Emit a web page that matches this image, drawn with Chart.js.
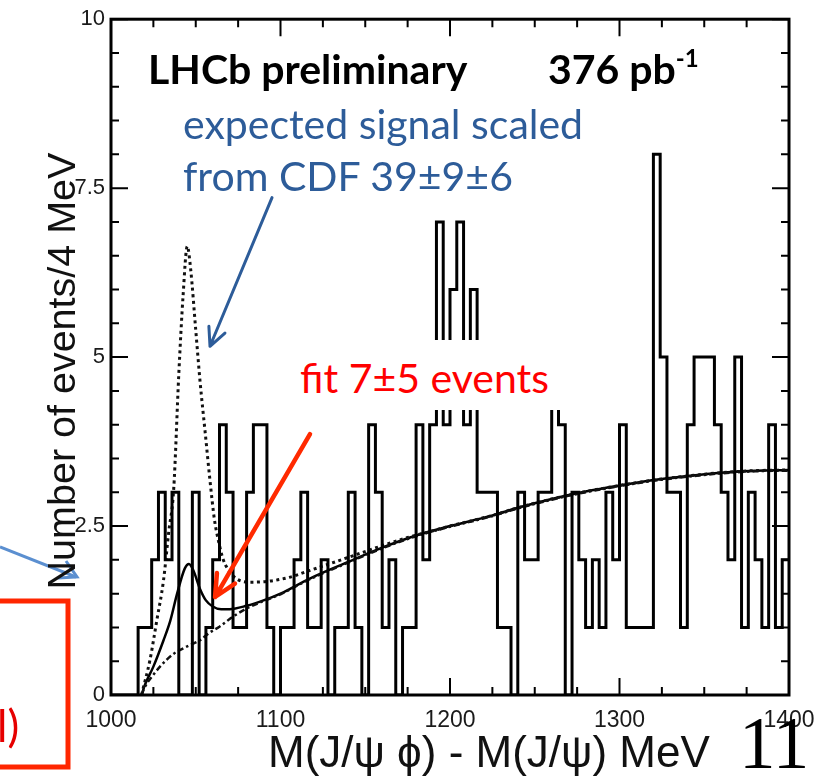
<!DOCTYPE html>
<html>
<head>
<meta charset="utf-8">
<script src="https://cdn.jsdelivr.net/npm/chart.js@4.4.1/dist/chart.umd.min.js"></script>
<style>
  html, body { margin: 0; padding: 0; background: #fff; }
  #wrap { position: relative; width: 832px; height: 776px; overflow: hidden; }
  #chart { position: absolute; left: 0; top: 0; }
  .note { position: absolute; font-family: Lato, "Open Sans", sans-serif; white-space: nowrap; line-height: 1; }
  #lhcb, #lumi { font-weight: bold; font-size: 41px; color: #000; top: 48px; }
  #lhcb { left: 148px; }
  #lumi { left: 548px; }
  #lumi sup { font-size: 24px; vertical-align: 17px; line-height: 0; }
  .cdf { color: #2d5c99; font-size: 41px; left: 183px; }
  #cdf1 { top: 103px; }
  #cdf2 { top: 155px; }
  #fit { left: 294px; top: 340px; padding: 17px 14px 12px 6px; background: #fff; color: #ff0000; font-size: 41px; }
  #cut { left: -3px; top: 703px; color: #e60000; font-size: 44px; }
  #page { position: absolute; left: 739px; top: 707px; font-family: "Liberation Serif", serif; font-size: 73px; line-height: 1; color: #000; }
  .axis-title { position: absolute; font-family: "Liberation Sans", Arial, sans-serif; line-height: 1; color: #111; white-space: nowrap; }
  #xtitle { left: 268px; top: 730px; font-size: 44px; }
  #ytitle { width: 460px; height: 40px; left: -168px; top: 351px; font-size: 39.5px; text-align: center; transform: rotate(-90deg); }
  #deco { position: absolute; left: 0; top: 0; }
</style>
</head>
<body>
<div id="wrap">
  <canvas id="chart" width="832" height="776"></canvas>
  <svg id="deco" width="832" height="776">
    <rect x="-20" y="601" width="88" height="166" fill="none" stroke="#ff2600" stroke-width="5"/>
    <line x1="0" y1="547" x2="76" y2="577" stroke="#5b8fd0" stroke-width="3"/>
    <polyline points="58,578 77,577 66,561" fill="none" stroke="#5b8fd0" stroke-width="3"/>
  </svg>
  <div class="axis-title" id="xtitle">M(J/ψ ϕ) - M(J/ψ) MeV</div>
  <div class="axis-title" id="ytitle">Number of events/4 MeV</div>
  <div class="note" id="lhcb">LHCb preliminary</div>
  <div class="note" id="lumi">376 pb<sup>-1</sup></div>
  <div class="note cdf" id="cdf1">expected signal scaled</div>
  <div class="note cdf" id="cdf2">from CDF 39±9±6</div>
  <div class="note" id="fit">fit 7±5 events</div>
  <div class="note" id="cut">l)</div>
  <div id="page">11</div>
</div>
<script>
// histogram: events per 4 MeV bin, 1000 - 1400 MeV
const binStart = 1000;
const binWidth = 4;
const counts = [
  0, 0, 0, 0, 1, 1, 2, 3, 2, 3,
  0, 0, 3, 0, 1, 2, 4, 3, 1, 1,
  3, 4, 4, 1, 0, 1, 1, 2, 3, 1,
  1, 2, 0, 1, 1, 3, 1, 0, 4, 3,
  1, 2, 0, 1, 1, 4, 2, 4, 7, 4,
  6, 7, 4, 6, 3, 3, 3, 1, 1, 0,
  3, 2, 2, 3, 3, 5, 4, 0, 3, 2,
  1, 2, 1, 3, 2, 4, 1, 1, 1, 1,
  8, 5, 3, 3, 1, 4, 5, 5, 5, 4,
  3, 2, 5, 1, 3, 2, 1, 4, 1, 2
];

// fit (signal + background), solid
const fitMass  = [1018, 1020, 1025, 1031, 1035, 1039, 1043.5, 1046, 1048.5, 1052.5, 1056, 1060, 1065, 1070, 1080, 1090, 1100, 1117, 1140, 1160, 1180, 1200, 1224, 1240, 1260, 1280, 1300, 1320, 1340, 1360, 1380, 1400];
const fitValue = [0, 0.15, 0.42, 0.81, 1.1, 1.5, 1.87, 1.94, 1.85, 1.57, 1.4, 1.31, 1.27, 1.27, 1.32, 1.4, 1.5, 1.72, 1.97, 2.18, 2.36, 2.5, 2.65, 2.77, 2.9, 3.01, 3.1, 3.18, 3.24, 3.29, 3.32, 3.33];

// expected signal scaled from CDF (+ background), dotted
const cdfMass  = [1018, 1023, 1027, 1031, 1034, 1037, 1040, 1042.5, 1045, 1047, 1050, 1052.5, 1055.5, 1058.5, 1061, 1063.5, 1066, 1069, 1074, 1082, 1092, 1105, 1117, 1130, 1145, 1160, 1175, 1190, 1200, 1224, 1240, 1260, 1280, 1300, 1320, 1340, 1360, 1380, 1400];
const cdfValue = [0, 0.52, 1.1, 1.7, 2.4, 3.05, 4.75, 5.9, 6.64, 6.3, 5.4, 4.65, 3.9, 3.15, 2.6, 2.27, 2.02, 1.86, 1.72, 1.67, 1.68, 1.74, 1.84, 1.95, 2.08, 2.21, 2.33, 2.43, 2.5, 2.65, 2.77, 2.9, 3.01, 3.1, 3.18, 3.24, 3.29, 3.32, 3.33];

// background only, dash-dot
const bkgMass  = [1018, 1020, 1025, 1030, 1037, 1045, 1052.5, 1058, 1064, 1072, 1080, 1090, 1100, 1117, 1140, 1160, 1180, 1200, 1224, 1240, 1260, 1280, 1300, 1320, 1340, 1360, 1380, 1400];
const bkgValue = [0, 0.12, 0.3, 0.45, 0.61, 0.72, 0.81, 0.92, 1.01, 1.16, 1.28, 1.39, 1.49, 1.71, 1.96, 2.17, 2.35, 2.49, 2.64, 2.76, 2.89, 3.0, 3.09, 3.17, 3.23, 3.28, 3.31, 3.32];

// arrows [mass, events] tail -> head
const arrowNotes = [
  { from: [1095, 7.36], to: [1058.4, 5.16], color: '#2d5c99', width: 3, head: 20 },
  { from: [1117.4, 3.86], to: [1061.4, 1.45], color: '#ff2a00', width: 4.5, head: 24 }
];

const xMinorStep = 25, xMajorStep = 100;
const yMinorStep = 0.5, yMajorStep = 2.5;

const toPoints = (xs, ys) => xs.map((x, i) => ({ x: x, y: ys[i] }));

const histPoints = counts.map((c, i) => ({ x: binStart + i * binWidth, y: c }));
histPoints.push({ x: binStart + counts.length * binWidth, y: counts[counts.length - 1] });

// frame with inward ticks on all four sides, plus the arrows
const frameTicks = {
  id: 'frameTicks',
  afterDatasetsDraw(chart) {
    const { ctx, chartArea: a, scales: { x, y } } = chart;
    ctx.save();
    ctx.strokeStyle = '#000';
    ctx.lineWidth = 2;
    ctx.beginPath();
    for (let v = x.min; v <= x.max + 1e-6; v += xMinorStep) {
      const px = x.getPixelForValue(v);
      const len = Math.abs(v % xMajorStep) < 1e-6 ? 17 : 8;
      ctx.moveTo(px, a.bottom); ctx.lineTo(px, a.bottom - len);
      ctx.moveTo(px, a.top); ctx.lineTo(px, a.top + len);
    }
    for (let v = y.min; v <= y.max + 1e-6; v += yMinorStep) {
      const py = y.getPixelForValue(v);
      const len = Math.abs(v % yMajorStep) < 1e-6 ? 17 : 8;
      ctx.moveTo(a.left, py); ctx.lineTo(a.left + len, py);
      ctx.moveTo(a.right, py); ctx.lineTo(a.right - len, py);
    }
    ctx.stroke();
    ctx.lineWidth = 3;
    ctx.strokeRect(a.left, a.top, a.right - a.left, a.bottom - a.top);

    arrowNotes.forEach(n => {
      const x1 = x.getPixelForValue(n.from[0]), y1 = y.getPixelForValue(n.from[1]);
      const x2 = x.getPixelForValue(n.to[0]), y2 = y.getPixelForValue(n.to[1]);
      const ang = Math.atan2(y2 - y1, x2 - x1);
      ctx.strokeStyle = n.color;
      ctx.lineWidth = n.width;
      ctx.lineCap = 'round';
      ctx.lineJoin = 'round';
      ctx.beginPath();
      ctx.moveTo(x1, y1); ctx.lineTo(x2, y2);
      ctx.moveTo(x2 - n.head * Math.cos(ang - 0.45), y2 - n.head * Math.sin(ang - 0.45));
      ctx.lineTo(x2, y2);
      ctx.lineTo(x2 - n.head * Math.cos(ang + 0.45), y2 - n.head * Math.sin(ang + 0.45));
      ctx.stroke();
    });
    ctx.restore();
  }
};

const tickFamily = "'Liberation Sans', Arial, sans-serif";

new Chart(document.getElementById('chart'), {
  type: 'line',
  data: {
    datasets: [
      {
        label: 'data',
        data: histPoints,
        stepped: 'before',
        borderColor: '#000',
        borderWidth: 3,
        pointRadius: 0,
        fill: false
      },
      {
        label: 'expected signal (CDF)',
        data: toPoints(cdfMass, cdfValue),
        borderColor: '#111',
        borderWidth: 3,
        borderDash: [3, 3.5],
        cubicInterpolationMode: 'monotone',
        pointRadius: 0
      },
      {
        label: 'background',
        data: toPoints(bkgMass, bkgValue),
        borderColor: '#111',
        borderWidth: 2.5,
        borderDash: [6, 3, 2.5, 3],
        cubicInterpolationMode: 'monotone',
        pointRadius: 0
      },
      {
        label: 'fit',
        data: toPoints(fitMass, fitValue),
        borderColor: '#000',
        borderWidth: 2.5,
        cubicInterpolationMode: 'monotone',
        pointRadius: 0
      }
    ]
  },
  options: {
    responsive: false,
    animation: false,
    layout: { padding: { top: 17, right: 43, left: 0, bottom: 0 } },
    plugins: { legend: { display: false }, tooltip: { enabled: false } },
    scales: {
      x: {
        type: 'linear',
        min: 1000,
        max: 1400,
        afterFit(scale) { scale.height = 81; },
        grid: { display: false, drawTicks: false },
        border: { display: false },
        ticks: { stepSize: 100, font: { family: tickFamily, size: 23 }, color: '#1a1a1a', padding: 12, maxRotation: 0,
                 callback: v => String(v) }
      },
      y: {
        type: 'linear',
        min: 0,
        max: 10,
        afterFit(scale) { scale.width = 111; },
        grid: { display: false, drawTicks: false },
        border: { display: false },
        ticks: { stepSize: 2.5, font: { family: tickFamily, size: 22 }, color: '#1a1a1a', padding: 6,
                 callback: v => String(v) }
      }
    }
  },
  plugins: [frameTicks]
});
</script>
</body>
</html>
